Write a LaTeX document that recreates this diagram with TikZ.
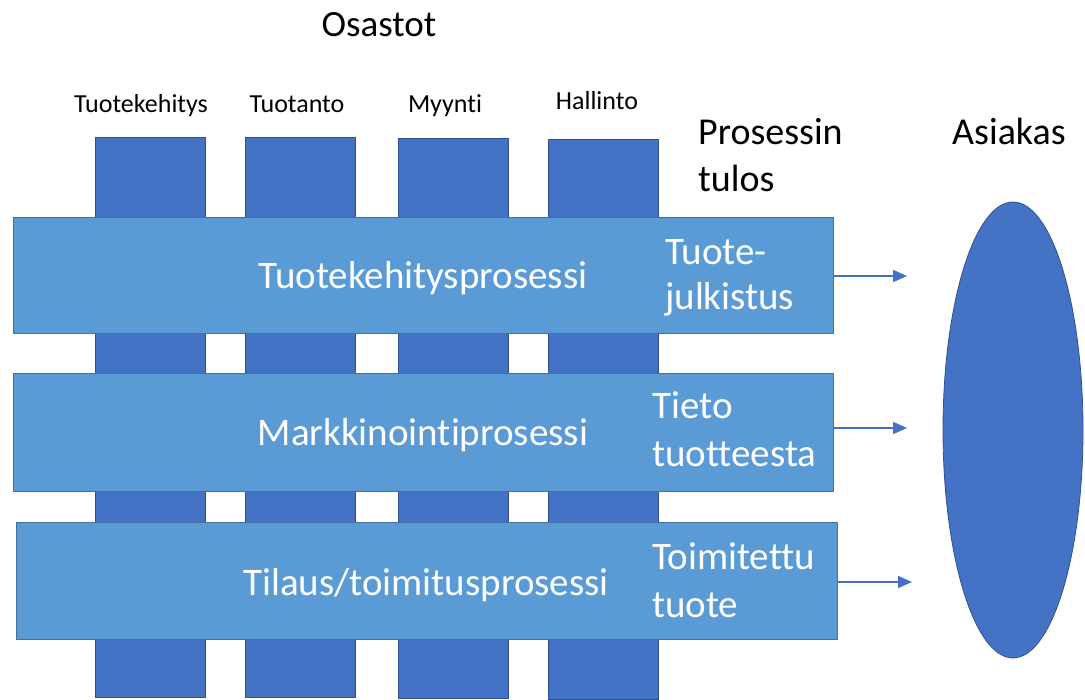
\documentclass[tikz,border=0pt]{standalone}
\usepackage{fontspec}
\setmainfont[Ligatures={NoCommon,NoContextual}]{Carlito}
\usetikzlibrary{arrows.meta,shapes.geometric}
\definecolor{deptblue}{HTML}{4472C4}
\definecolor{deptedge}{HTML}{2F528F}
\definecolor{procblue}{HTML}{5B9BD5}
\definecolor{procedge}{HTML}{41719C}

\begin{document}
\begin{tikzpicture}[x=1pt,y=-1pt,
  dept/.style={fill=deptblue, draw=deptedge, line width=0.8pt,
    inner sep=0pt, outer sep=0pt},
  proc/.style={fill=procblue, draw=procedge, line width=0.8pt,
    inner sep=0pt, outer sep=0pt},
  column/.style={dept, rectangle, anchor=north west,
    minimum width=110, minimum height=560},
  lbl/.style={inner sep=0pt, text=black},
  deptlbl/.style={lbl, anchor=base, font=\fontsize{26}{31}\selectfont},
  headlbl/.style={lbl, font=\fontsize{38}{46}\selectfont},
  proclbl/.style={inner sep=0pt, text=white, font=\fontsize{39}{47}\selectfont},
  flow/.style={draw=deptblue, line width=1.5pt,
    -{Triangle[length=14pt, width=12pt]}}]
\useasboundingbox (0,0) rectangle (1085,700);

% departments (vertical bars)
\node[column] (d1) at (95,137) {};
\node[column] (d2) at (245,137) {};
\node[column] (d3) at (398,138) {};
\node[column] (d4) at (548,139) {};

% processes (horizontal bars)
\node[proc, rectangle, anchor=north west, minimum width=820, minimum height=116] (r1) at (13,217) {};
\node[proc, rectangle, anchor=north west, minimum width=820, minimum height=118] (r2) at (13,373) {};
\node[proc, rectangle, anchor=north west, minimum width=821, minimum height=117] (r3) at (16,522) {};

% customer
\node[dept, ellipse, minimum width=140, minimum height=456] (cust) at (1013,430) {};

% headings
\node[lbl, anchor=base, font=\fontsize{37}{44}\selectfont] (osastot) at (379,37) {Osastot};
\node[deptlbl] (t1) at (141,113) {Tuotekehitys};
\node[deptlbl] (t2) at (297,113) {Tuotanto};
\node[deptlbl] (t3) at (445,113) {Myynti};
\node[deptlbl] (t4) at (597,110) {Hallinto};
\node[headlbl, anchor=base west] (tulos1) at (698,145) {Prosessin};
\node[headlbl, anchor=base west] (tulos2) at (698,192) {tulos};
\node[headlbl, anchor=base west] (asiakas) at (952,145) {Asiakas};

% process names
\node[proclbl, anchor=base] (p1) at (423,289) {Tuotekehitysprosessi};
\node[proclbl, anchor=base] (p2) at (423,446) {Markkinointiprosessi};
\node[proclbl, anchor=base] (p3) at (426,595) {Tilaus/toimitusprosessi};

% process results
\node[proclbl, anchor=base west] (o1a) at (665,265) {Tuote-};
\node[proclbl, anchor=base west] (o1b) at (665,310) {julkistus};
\node[proclbl, anchor=base west] (o2a) at (652,419) {Tieto};
\node[proclbl, anchor=base west] (o2b) at (652,467) {tuotteesta};
\node[proclbl, anchor=base west] (o3a) at (652,569) {Toimitettu};
\node[proclbl, anchor=base west] (o3b) at (652,617) {tuote};

% output arrows
\coordinate (a1) at (907,276);
\coordinate (a2) at (907,428);
\coordinate (a3) at (912,582);
\draw[flow] (r1.east |- a1) -- (a1);
\draw[flow] (r2.east |- a2) -- (a2);
\draw[flow] (r3.east |- a3) -- (a3);
\end{tikzpicture}
\end{document}
